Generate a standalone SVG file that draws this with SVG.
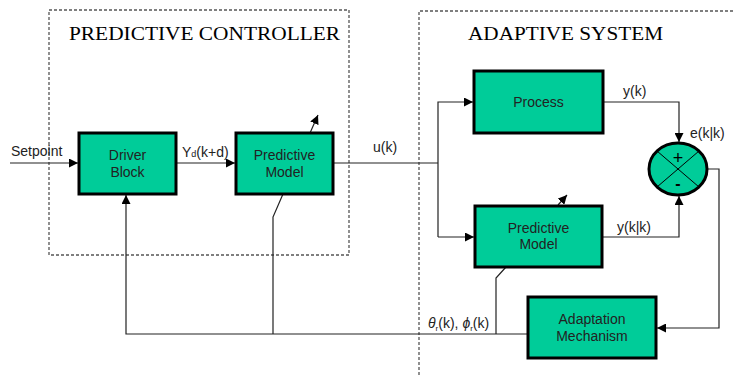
<svg xmlns="http://www.w3.org/2000/svg" width="735" height="375" viewBox="0 0 735 375">
<style>
.blk{fill:#00CC99;stroke:#000;stroke-width:3}
.frame{fill:none;stroke:#555;stroke-width:1.3;stroke-dasharray:3,2}
.ln{fill:none;stroke:#222;stroke-width:1.2}
.t{font-family:"Liberation Sans",Arial,sans-serif;font-size:14px;fill:#222;text-anchor:middle}
.lbl{font-family:"Liberation Sans",Arial,sans-serif;font-size:14px;fill:#222}
.title{font-family:"Liberation Serif","Times New Roman",serif;font-size:19px;fill:#000}
</style>
<defs>
<marker id="ah" viewBox="0 0 10 10" refX="10" refY="5" markerWidth="9" markerHeight="9" markerUnits="userSpaceOnUse" orient="auto">
<path d="M0,0 L10,5 L0,10 z" fill="#000"/>
</marker>
</defs>
<g id="frames">
<rect class="frame" x="49" y="10" width="300" height="245"/>
<path class="frame" d="M419,380 V11 H740"/>
<text class="title" x="69" y="40" textLength="271" lengthAdjust="spacingAndGlyphs">PREDICTIVE CONTROLLER</text>
<text class="title" x="468" y="40" textLength="195" lengthAdjust="spacingAndGlyphs">ADAPTIVE SYSTEM</text>
</g>
<g id="connectors">
<line class="ln" x1="10" y1="163" x2="78" y2="163" marker-end="url(#ah)"/>
<line class="ln" x1="176" y1="163" x2="235" y2="163" marker-end="url(#ah)"/>
<path class="ln" d="M333,163 H438"/>
<path class="ln" d="M438,237 V102 H473" marker-end="url(#ah)"/>
<path class="ln" d="M438,237 H474" marker-end="url(#ah)"/>
<path class="ln" d="M603,102 H679 V142" marker-end="url(#ah)"/>
<path class="ln" d="M602,237 H679 V196" marker-end="url(#ah)"/>
<path class="ln" d="M707,169 H719 V328 H657" marker-end="url(#ah)"/>
<path class="ln" d="M528,334 H126 V195" marker-end="url(#ah)"/>
<path class="ln" d="M273,334 V217 L283,194"/>
<path class="ln" d="M496,334 V278 L506,267"/>
<line class="ln" x1="310" y1="133" x2="318" y2="115" marker-end="url(#ah)"/>
<line class="ln" x1="558" y1="205" x2="567" y2="195" marker-end="url(#ah)"/>
<text class="lbl" x="11" y="156">Setpoint</text>
<text class="lbl" x="182" y="157">Y<tspan font-size="9">d</tspan>(k+d)</text>
<text class="lbl" x="373" y="152">u(k)</text>
<text class="lbl" x="623" y="96">y(k)</text>
<text class="lbl" x="617" y="232">y(k|k)</text>
<text class="lbl" x="690" y="138">e(k|k)</text>
<text class="lbl" x="428" y="328" font-size="13"><tspan font-style="italic">θ</tspan><tspan font-size="8" dy="3">r</tspan><tspan dy="-3">(k), </tspan><tspan font-style="italic">ϕ</tspan><tspan font-size="8" dy="3">r</tspan><tspan dy="-3">(k)</tspan></text>
</g>
<g id="driver">
<rect class="blk" x="79" y="133" width="97" height="61"/>
<text class="t" x="127.5" y="160">Driver</text>
<text class="t" x="127.5" y="177">Block</text>
</g>
<g id="pm-left">
<rect class="blk" x="236" y="133" width="97" height="61"/>
<text class="t" x="284.5" y="160">Predictive</text>
<text class="t" x="284.5" y="177">Model</text>
</g>
<g id="process">
<rect class="blk" x="474" y="71" width="129" height="62"/>
<text class="t" x="538.5" y="107">Process</text>
</g>
<g id="pm-right">
<rect class="blk" x="475" y="206" width="127" height="61"/>
<text class="t" x="538.5" y="233">Predictive</text>
<text class="t" x="538.5" y="249">Model</text>
</g>
<g id="adaptation">
<rect class="blk" x="528" y="297" width="128" height="61"/>
<text class="t" x="592" y="324">Adaptation</text>
<text class="t" x="592" y="341">Mechanism</text>
</g>
<g id="sum">
<ellipse class="blk" cx="678" cy="169" rx="29" ry="26"/>
<line x1="657" y1="151" x2="699" y2="187" stroke="#000" stroke-width="1"/>
<line x1="699" y1="151" x2="657" y2="187" stroke="#000" stroke-width="1"/>
<text x="678" y="164" font-family="Liberation Sans,Arial,sans-serif" font-size="18" text-anchor="middle" fill="#000">+</text>
<text x="678" y="189" font-family="Liberation Sans,Arial,sans-serif" font-size="16" font-weight="bold" text-anchor="middle" fill="#000">-</text>
</g>
</svg>
